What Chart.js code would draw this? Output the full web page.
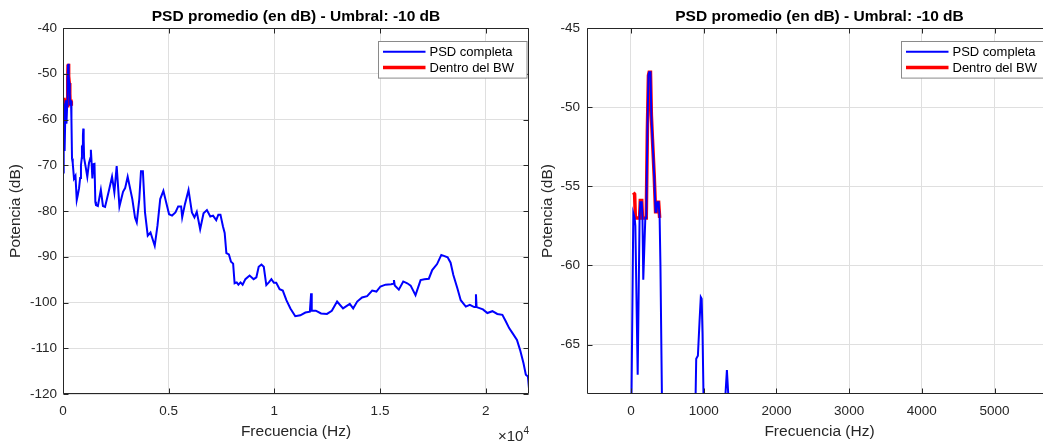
<!DOCTYPE html>
<html><head><meta charset="utf-8">
<script src="https://cdn.jsdelivr.net/npm/chart.js@4/dist/chart.umd.min.js"></script>
<style>
html,body{margin:0;padding:0;background:#fff;overflow:hidden;width:1043px;height:443px;position:relative;}
#c1{position:absolute;left:0;top:0;}
#c2{position:absolute;left:530px;top:0;}
</style></head><body>
<canvas id="c1" width="530" height="443"></canvas>
<canvas id="c2" width="530" height="443"></canvas>
<script>
// ---- data ----
const psdFreq = [0,32,50,60,92,118,128,148,158,169,197,210,225,240,250,268,280,295,320,338,350,362,380,394,405,426,460,520,590,650,700,760,810,850,888,897,920,943,960,972,984,998,1070,1150,1230,1296,1319,1341,1390,1430,1490,1530,1560,1650,1790,1890,1990,2190,2320,2430,2540,2670,2840,2940,3060,3280,3410,3490,3610,3690,3780,3880,4010,4140,4340,4470,4600,4750,4880,5020,5160,5320,5450,5590,5640,5770,5940,6100,6220,6330,6490,6650,6810,6970,7100,7250,7350,7450,7570,7650,7730,7850,7950,8050,8120,8220,8300,8400,8500,8630,8830,9020,9150,9260,9390,9500,9620,9740,9860,9980,10090,10250,10400,10570,10760,10990,11230,11470,11680,11740,11770,11960,12210,12490,12720,12970,13250,13570,13730,13920,14150,14390,14630,14830,15020,15260,15530,15620,15660,15700,15890,16100,16290,16450,16680,16920,17100,17310,17470,17700,17900,18200,18340,18470,18660,18820,19060,19250,19460,19520,19540,19570,19870,20080,20320,20550,20790,20950,21110,21270,21480,21630,21790,21900,22000,22050];
const psdDb = [-71.6,-56.7,-57,-57.5,-66.9,-57,-56,-56,-57,-60.9,-57,-57,-51.5,-48,-47.8,-47.8,-50.5,-52,-54.4,-56.6,-56.6,-56,-56,-57,-60,-68.5,-69.5,-72.9,-72.3,-77.6,-76.5,-75,-72.8,-70,-68.4,-65.9,-65.7,-63.5,-62,-62.1,-64.3,-68.4,-70.3,-72.5,-69.5,-68.4,-66.6,-68.4,-72.9,-69.8,-69.7,-78,-78.7,-78.9,-75.4,-78.9,-79.1,-75.2,-72.5,-75.9,-70.2,-79,-75.8,-75,-72.5,-77.4,-81.5,-82.5,-77.4,-71.3,-71.3,-80.3,-85.4,-84.7,-87.6,-83.2,-77.4,-75.6,-78.1,-80.7,-81,-80.3,-79,-79,-81.4,-78.5,-75.4,-80.3,-81.4,-80.2,-84,-80.5,-79.8,-81.2,-81,-82,-80.8,-80.8,-83.4,-84.8,-89.2,-89.5,-91.1,-91.5,-95.8,-95.6,-96.1,-95.6,-96.1,-94.9,-94.1,-94.9,-94.5,-92.2,-91.7,-92.2,-96.2,-95.6,-94.9,-95.7,-95.7,-97.1,-97.4,-99.5,-101.3,-103,-102.8,-102.2,-102,-98,-101.8,-101.8,-102.4,-102.5,-101.8,-99.8,-101.3,-100.3,-101.3,-99.8,-98.9,-98.6,-97.4,-97.6,-96.5,-96.1,-96,-95.9,-95.1,-96.3,-97.2,-95.4,-95.8,-96.3,-98.4,-95.1,-94.9,-94.8,-92.9,-91.6,-89.6,-90.1,-91.3,-94,-96.9,-99.5,-100.9,-100.5,-101,-101,-98.2,-101,-101.5,-102.3,-101.9,-102.5,-102.7,-104.1,-105.6,-106.7,-108.2,-110.4,-113.3,-115.8,-116.2,-118.8];
const bwFreq = [32,50,60,118,128,148,158,210,225,240,250,268,280,295,320,338,350,362,380,394];
const bwDb = [-55.4,-55.5,-57,-57,-55.9,-55.9,-57,-57,-51.5,-48,-47.8,-47.8,-50.5,-52,-54.4,-56.6,-56.6,-56,-56,-57];

const leftXTicks = [0,5000,10000,15000,20000];
const leftYTicks = [-120,-110,-100,-90,-80,-70,-60,-50,-40];
const rightXTicks = [0,1000,2000,3000,4000,5000];
const rightYTicks = [-65,-60,-55,-50,-45];
const titleText = 'PSD promedio (en dB) - Umbral: -10 dB';
const xLabel = 'Frecuencia (Hz)';
const yLabel = 'Potencia (dB)';
const legendLabels = ['PSD completa', 'Dentro del BW'];

// ---- styling ----
const FONT = '"Liberation Sans", Arial, Helvetica, sans-serif';
const AX = '#262626';
const GRID = '#dfdfdf';
const BLUE = '#0000ff';
const RED = '#ff0000';

function pts(xs, ys) { return xs.map((x, i) => ({x: x, y: ys[i]})); }

const matlabPlugin = {
  id: 'matlab',
  afterDraw(chart, args, opts) {
    const ctx = chart.ctx, a = chart.chartArea;
    const xs = chart.scales.x, ys = chart.scales.y;
    ctx.save();
    const L = Math.round(a.left) + 0.5, R = Math.round(a.right) - 0.5;
    const T = Math.round(a.top) + 0.5, B = Math.round(a.bottom) - 0.5;
    ctx.strokeStyle = AX; ctx.lineWidth = 1;
    ctx.beginPath(); ctx.rect(L, T, R - L, B - T); ctx.stroke();
    const tl = 5;
    ctx.beginPath();
    xs.ticks.forEach(t => {
      const px = Math.round(xs.getPixelForValue(t.value)) + 0.5;
      ctx.moveTo(px, B); ctx.lineTo(px, B - tl);
      ctx.moveTo(px, T); ctx.lineTo(px, T + tl);
    });
    ys.ticks.forEach(t => {
      const py = Math.round(ys.getPixelForValue(t.value)) + 0.5;
      ctx.moveTo(L, py); ctx.lineTo(L + tl, py);
      ctx.moveTo(R, py); ctx.lineTo(R - tl, py);
    });
    ctx.stroke();
    // title
    ctx.fillStyle = '#000';
    ctx.font = 'bold 15.5px ' + FONT;
    ctx.textAlign = 'center'; ctx.textBaseline = 'middle';
    ctx.fillText(opts.title, (a.left + a.right) / 2, 16.7);
    // legend
    const bw = 148.5, bh = 36.6;
    const bx = Math.round(a.right - 2.5 - bw) + 0.5, by = Math.round(a.top + 12.5) + 0.5;
    ctx.fillStyle = '#fff';
    ctx.fillRect(bx, by, bw, bh);
    ctx.strokeStyle = '#8a8a8a'; ctx.lineWidth = 1;
    ctx.strokeRect(bx, by, bw, bh);
    const rows = [by + 10.3, by + 26];
    const cols = [BLUE, RED], widths = [2, 3.5];
    ctx.font = '13px ' + FONT; ctx.textAlign = 'left'; ctx.textBaseline = 'middle';
    rows.forEach((ry, i) => {
      ctx.strokeStyle = cols[i]; ctx.lineWidth = widths[i];
      ctx.beginPath(); ctx.moveTo(bx + 4.5, ry); ctx.lineTo(bx + 47, ry); ctx.stroke();
      ctx.fillStyle = '#000';
      ctx.fillText(opts.legend[i], bx + 51, ry + 0.5);
    });
    if (opts.exponent) {
      ctx.fillStyle = AX;
      ctx.textBaseline = 'alphabetic'; ctx.textAlign = 'right';
      ctx.font = '10px ' + FONT;
      ctx.fillText('4', a.right, 433.5);
      const w4 = ctx.measureText('4').width;
      ctx.font = '15px ' + FONT;
      ctx.fillText('\u00d710', a.right - w4, 441);
    }
    ctx.restore();
  }
};

function makeChart(id, cfg) {
  return new Chart(document.getElementById(id), {
    type: 'scatter',
    data: {
      datasets: [
        {label: legendLabels[0], data: pts(psdFreq, psdDb), showLine: true, borderColor: BLUE, backgroundColor: BLUE, borderWidth: 2, pointRadius: 0, tension: 0},
        {label: legendLabels[1], data: pts(bwFreq, bwDb), showLine: true, borderColor: RED, backgroundColor: RED, borderWidth: 3.5, pointRadius: 0, tension: 0}
      ]
    },
    options: {
      responsive: false, animation: false, devicePixelRatio: 1,
      layout: {padding: {top: 28, right: cfg.padRight, left: 0, bottom: 0}},
      plugins: {
        legend: {display: false}, tooltip: {enabled: false}, title: {display: false},
        matlab: {title: titleText, legend: legendLabels, exponent: cfg.exponent}
      },
      scales: {
        x: {
          type: 'linear', min: cfg.xmin, max: cfg.xmax,
          afterBuildTicks: s => { s.ticks = cfg.xticks.map(v => ({value: v})); },
          afterFit: s => { s.height = 49; },
          ticks: {callback: cfg.xfmt, color: AX, font: {family: FONT, size: 13.5}, padding: 9, maxRotation: 0, autoSkip: false},
          grid: {color: GRID, lineWidth: 1, drawTicks: false},
          border: {display: false},
          title: {display: true, text: xLabel, color: AX, font: {family: FONT, size: 15.5}, padding: {top: 0, bottom: 1.7}}
        },
        y: {
          type: 'linear', min: cfg.ymin, max: cfg.ymax,
          afterBuildTicks: s => { s.ticks = cfg.yticks.map(v => ({value: v})); },
          afterFit: s => { s.width = cfg.yw; },
          ticks: {color: AX, font: {family: FONT, size: 13.5}, padding: cfg.ypad, autoSkip: false},
          grid: {color: GRID, lineWidth: 1, drawTicks: false},
          border: {display: false},
          title: {display: true, text: yLabel, color: AX, font: {family: FONT, size: 15.5}, padding: {top: cfg.ytitlePad, bottom: 0}}
        }
      }
    },
    plugins: [matlabPlugin]
  });
}

makeChart('c1', {
  xmin: 0, xmax: 22050, ymin: -120, ymax: -40,
  xticks: leftXTicks, yticks: leftYTicks,
  xfmt: v => String(v / 10000),
  yw: 63, ypad: 6, ytitlePad: 6.2, padRight: 1, exponent: true
});
makeChart('c2', {
  xmin: -605, xmax: 5790, ymin: -68.12, ymax: -45,
  xticks: rightXTicks, yticks: rightYTicks,
  xfmt: v => String(v),
  yw: 57, ypad: 7, ytitlePad: 8, padRight: 8, exponent: false
});
</script>
</body></html>
